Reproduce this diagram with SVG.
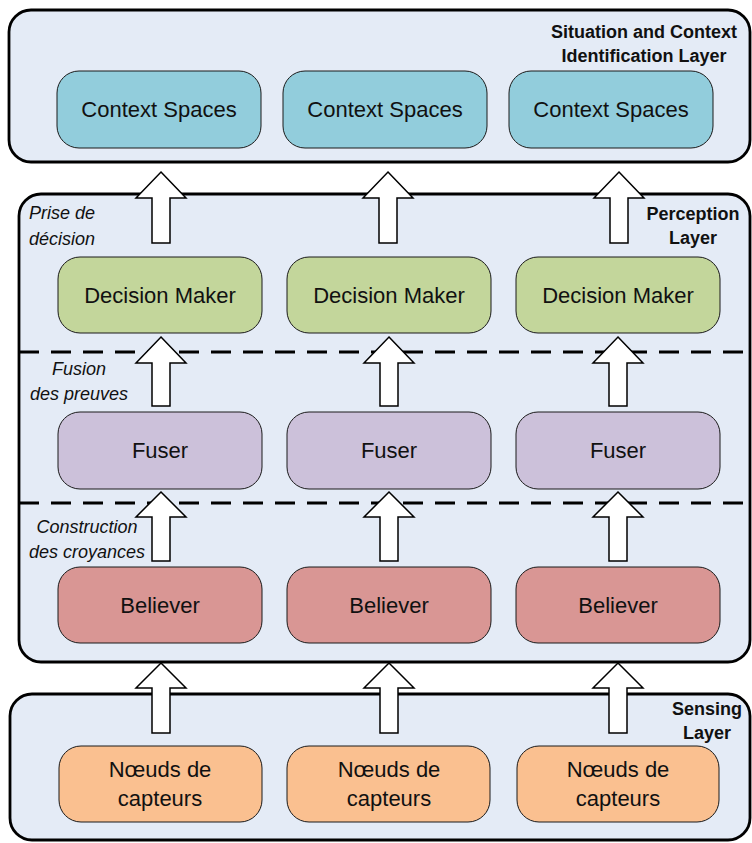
<svg xmlns="http://www.w3.org/2000/svg" width="752" height="843" viewBox="0 0 752 843">
<defs>
<style>
.layer{fill:#E4EBF6;stroke:#000;stroke-width:2.8}
.box{stroke:#1a1a1a;stroke-width:1}
.cs{fill:#92CDDC}.dm{fill:#C3D69B}.fu{fill:#CCC1DA}.be{fill:#D99694}.nd{fill:#FAC090}
.t{font-family:"Liberation Sans",Arial,sans-serif;font-size:22px;fill:#111;text-anchor:middle}
.b{font-family:"Liberation Sans",Arial,sans-serif;font-size:18px;font-weight:bold;fill:#111;text-anchor:middle}
.i{font-family:"Liberation Sans",Arial,sans-serif;font-size:18px;font-style:italic;fill:#111}
.dash{stroke:#000;stroke-width:3;stroke-dasharray:20 12;fill:none}
.arr{fill:#fff;stroke:#000;stroke-width:1.5;stroke-linejoin:miter}
</style>
</defs>

<g id="layer-situation">
<rect class="layer" x="9" y="10" width="741" height="152" rx="22"/>
<text class="b" x="644" y="38">Situation and Context</text>
<text class="b" x="644" y="62">Identification Layer</text>
</g>
<g id="layer-perception">
<rect class="layer" x="19" y="194" width="731" height="468" rx="22"/>
<text class="b" x="693" y="220">Perception</text>
<text class="b" x="693" y="244">Layer</text>
<line class="dash" x1="19" y1="352" x2="752" y2="352"/>
<line class="dash" x1="19" y1="503" x2="752" y2="503"/>
<text class="i" x="29" y="219">Prise de</text>
<text class="i" x="29" y="245">décision</text>
<text class="i" x="79" y="375" text-anchor="middle">Fusion</text>
<text class="i" x="79" y="400" text-anchor="middle">des preuves</text>
<text class="i" x="87" y="533" text-anchor="middle">Construction</text>
<text class="i" x="87" y="558" text-anchor="middle">des croyances</text>
</g>
<g id="layer-sensing">
<rect class="layer" x="10" y="694" width="740" height="146" rx="22"/>
<text class="b" x="707" y="715">Sensing</text>
<text class="b" x="707" y="739">Layer</text>
</g>

<g id="cs1"><rect class="box cs" x="57" y="71" width="204" height="77" rx="22"/><text class="t" x="159" y="117">Context Spaces</text></g>
<g id="cs2"><rect class="box cs" x="283" y="71" width="204" height="77" rx="22"/><text class="t" x="385" y="117">Context Spaces</text></g>
<g id="cs3"><rect class="box cs" x="509" y="71" width="204" height="77" rx="22"/><text class="t" x="611" y="117">Context Spaces</text></g>

<g id="dm1"><rect class="box dm" x="58" y="257" width="204" height="76" rx="22"/><text class="t" x="160" y="303">Decision Maker</text></g>
<g id="dm2"><rect class="box dm" x="287" y="257" width="204" height="76" rx="22"/><text class="t" x="389" y="303">Decision Maker</text></g>
<g id="dm3"><rect class="box dm" x="516" y="257" width="204" height="76" rx="22"/><text class="t" x="618" y="303">Decision Maker</text></g>

<g id="fu1"><rect class="box fu" x="58" y="412" width="204" height="77" rx="22"/><text class="t" x="160" y="458">Fuser</text></g>
<g id="fu2"><rect class="box fu" x="287" y="412" width="204" height="77" rx="22"/><text class="t" x="389" y="458">Fuser</text></g>
<g id="fu3"><rect class="box fu" x="516" y="412" width="204" height="77" rx="22"/><text class="t" x="618" y="458">Fuser</text></g>

<g id="be1"><rect class="box be" x="58" y="567" width="204" height="76" rx="22"/><text class="t" x="160" y="613">Believer</text></g>
<g id="be2"><rect class="box be" x="287" y="567" width="204" height="76" rx="22"/><text class="t" x="389" y="613">Believer</text></g>
<g id="be3"><rect class="box be" x="516" y="567" width="204" height="76" rx="22"/><text class="t" x="618" y="613">Believer</text></g>

<g id="nd1"><rect class="box nd" x="59" y="746" width="203" height="76" rx="22"/><text class="t" x="160" y="777">Nœuds de</text><text class="t" x="160" y="806">capteurs</text></g>
<g id="nd2"><rect class="box nd" x="287" y="746" width="203" height="76" rx="22"/><text class="t" x="389" y="777">Nœuds de</text><text class="t" x="389" y="806">capteurs</text></g>
<g id="nd3"><rect class="box nd" x="517" y="746" width="202" height="76" rx="22"/><text class="t" x="618" y="777">Nœuds de</text><text class="t" x="618" y="806">capteurs</text></g>

<g id="connectors">
<path class="arr" d="M161,172 L186,198 L170,198 L170,243 L152,243 L152,198 L136,198 Z"/>
<path class="arr" d="M388,172 L413,198 L397,198 L397,243 L379,243 L379,198 L363,198 Z"/>
<path class="arr" d="M619,172 L644,198 L628,198 L628,243 L610,243 L610,198 L594,198 Z"/>
<path class="arr" d="M161,337 L186,363 L170,363 L170,406 L152,406 L152,363 L136,363 Z"/>
<path class="arr" d="M389,337 L414,363 L398,363 L398,406 L380,406 L380,363 L364,363 Z"/>
<path class="arr" d="M618,337 L643,363 L627,363 L627,406 L609,406 L609,363 L593,363 Z"/>
<path class="arr" d="M161,492 L186,517 L170,517 L170,561 L152,561 L152,517 L136,517 Z"/>
<path class="arr" d="M389,492 L414,517 L398,517 L398,561 L380,561 L380,517 L364,517 Z"/>
<path class="arr" d="M618,492 L643,517 L627,517 L627,561 L609,561 L609,517 L593,517 Z"/>
<path class="arr" d="M161,663 L186,688 L170,688 L170,733 L152,733 L152,688 L136,688 Z"/>
<path class="arr" d="M389,663 L414,688 L398,688 L398,733 L380,733 L380,688 L364,688 Z"/>
<path class="arr" d="M618,663 L643,688 L627,688 L627,733 L609,733 L609,688 L593,688 Z"/>
</g>
</svg>
